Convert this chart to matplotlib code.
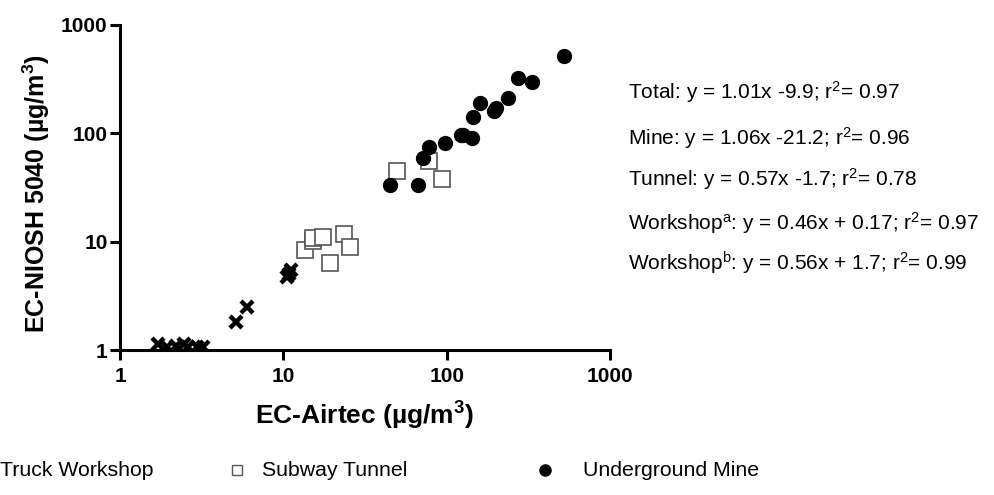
import matplotlib
matplotlib.use('Agg')
import numpy as np
import matplotlib.pyplot as plt
from matplotlib.lines import Line2D

plt.rcParams['font.family'] = ['Liberation Sans', 'DejaVu Sans']
plt.rcParams['mathtext.fontset'] = 'custom'
plt.rcParams['mathtext.rm'] = 'Liberation Sans'
plt.rcParams['mathtext.it'] = 'Liberation Sans'
plt.rcParams['mathtext.bf'] = 'Liberation Sans:bold'

# workshop (crosses)
shop_airtec = [1.7, 1.95, 2.2, 2.45, 2.6, 2.95, 3.2, 5.1, 6.0, 10.5, 10.8, 11.1]
shop_niosh = [1.13, 1.07, 1.08, 1.13, 1.07, 1.07, 1.06, 1.8, 2.5, 4.7, 5.0, 5.5]

# subway tunnel (open squares)
tunnel_airtec = [13.5, 15.2, 15.3, 17.6, 19.2, 23.6, 25.5, 50, 78, 93]
tunnel_niosh = [8.3, 10.1, 10.9, 11.0, 6.4, 11.8, 9.0, 45, 55, 38]

# underground mine (filled circles)
mine_airtec = [45, 67, 72, 78, 97, 123, 126, 143, 145, 161, 195, 201, 236, 272, 335, 522]
mine_niosh = [33, 33, 59, 75, 82, 96, 96, 91, 141, 192, 162, 171, 211, 327, 300, 519]

fit_lines = [
    'Total: y = 1.01x -9.9; r$^2$= 0.97',
    'Mine: y = 1.06x -21.2; r$^2$= 0.96',
    'Tunnel: y = 0.57x -1.7; r$^2$= 0.78',
    'Workshop$^{a}$: y = 0.46x + 0.17; r$^2$= 0.97',
    'Workshop$^{b}$: y = 0.56x + 1.7; r$^2$= 0.99',
]
fit_y = [92, 138, 179, 223, 263]  # pixel rows of the text lines

group_names = ['Truck Workshop', 'Subway Tunnel', 'Underground Mine']

W, H = 994, 495
fig = plt.figure(figsize=(W / 100, H / 100), dpi=100)
ax = fig.add_axes([120 / W, 1 - 350 / H, 490 / W, 325 / H])

ax.plot(shop_airtec, shop_niosh, 'x', color='black', ms=8.5, mew=3.2, ls='none')
ax.plot(tunnel_airtec, tunnel_niosh, 's', mfc='white', mec='#555555', ms=12, mew=1.2, ls='none')
ax.plot(mine_airtec, mine_niosh, 'o', color='black', ms=10, ls='none')

ax.set_xscale('log')
ax.set_yscale('log')
ax.set_xlim(1, 1000)
ax.set_ylim(1, 1000)
ax.set_xticks([1, 10, 100, 1000], ['1', '10', '100', '1000'])
ax.set_yticks([1, 10, 100, 1000], ['1', '10', '100', '1000'])
ax.minorticks_off()
for s in ['top', 'right']:
    ax.spines[s].set_visible(False)
for s in ['left', 'bottom']:
    ax.spines[s].set_linewidth(2.2)
ax.tick_params(width=2.2, length=7, labelsize=15)
ax.tick_params(axis='x', pad=5)
ax.tick_params(axis='y', pad=2)
for lab in ax.get_xticklabels() + ax.get_yticklabels():
    lab.set_fontweight('bold')

ax.set_xlabel('EC-Airtec (µg/m$\\mathbf{^3}$)', fontsize=19, fontweight='bold', va='center')
ax.set_ylabel('EC-NIOSH 5040 (µg/m$\\mathbf{^3}$)', fontsize=18, fontweight='bold', va='center')
ax.xaxis.set_label_coords(0.5, (350 - 416) / 325)
ax.yaxis.set_label_coords((36 - 120) / 490, 0.48)

for txt, py in zip(fit_lines, fit_y):
    fig.text(628 / W, 1 - py / H, txt, fontsize=15, va='center', ha='left')

# legend row under the chart (first marker falls outside the picture)
leg_y = 1 - 470 / H
markers = [
    dict(marker='x', color='black', ms=7, mew=2.5),
    dict(marker='s', mfc='white', mec='#555555', ms=7, mew=1),
    dict(marker='o', color='black', ms=8),
]
marker_x = [-25, 237, 545]
text_x = [0, 262, 583]
for name, mk, mx, tx in zip(group_names, markers, marker_x, text_x):
    fig.add_artist(Line2D([mx / W], [leg_y], transform=fig.transFigure, ls='none', **mk))
    fig.text(tx / W, leg_y, name, fontsize=15.3, va='center', ha='left')

fig.savefig('out.png', dpi=100)
